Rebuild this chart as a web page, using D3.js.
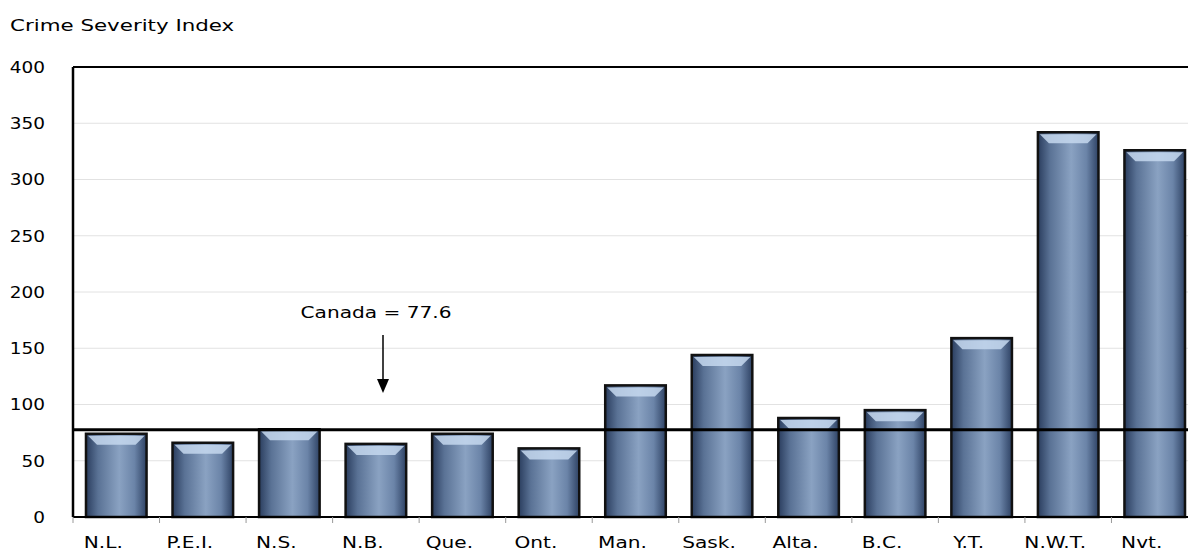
<!DOCTYPE html>
<html><head><meta charset="utf-8">
<script src="https://cdn.jsdelivr.net/npm/d3@7"></script>
<style>body{margin:0;background:#fff}text{font-family:Verdana,"DejaVu Sans",sans-serif}</style>
</head><body><svg id="c" width="1188" height="554"></svg>
<script>
const provinces = ["N.L.","P.E.I.","N.S.","N.B.","Que.","Ont.","Man.","Sask.","Alta.","B.C.","Y.T.","N.W.T.","Nvt."];
const severity = [74,66,78,65,74,61,117,144,88,95,159,342,326];
const yTicks = [0,50,100,150,200,250,300,350,400];
const canadaValue = 77.6;

const svg = d3.select("#c");
const mLeft = 73, mTop = 67, mBottom = 517, mRight = 1198;
const sx = 1.22; // the reference text is stretched sideways
const x = d3.scaleBand().domain(provinces).range([mLeft, mRight]).paddingInner(0.3).paddingOuter(0.15);
const y = d3.scaleLinear().domain([0, 400]).range([mBottom, mTop]);

// place text at (px,py) stretched horizontally
const label = (sel, px, py, anchor, str, s = sx) => sel.append("text")
  .attr("transform", `translate(${px},${py}) scale(${s},1)`)
  .attr("text-anchor", anchor).attr("font-size", 16.5).text(str);

const defs = svg.append("defs");
const g = defs.append("linearGradient").attr("id", "bar").attr("x1", 0).attr("x2", 1);
[[0,"#2a3d5e"],[0.2,"#5a7295"],[0.55,"#8aa2c2"],[0.8,"#6b84a8"],[1,"#2e4264"]]
  .forEach(([o,c]) => g.append("stop").attr("offset", o).attr("stop-color", c));

// gridlines
svg.append("g").selectAll("line").data(yTicks.slice(1, -1)).join("line")
  .attr("x1", mLeft).attr("x2", 1188).attr("y1", d => y(d)).attr("y2", d => y(d))
  .attr("stroke", "#e2e2e2");

svg.append("g").attr("transform", `translate(${mLeft},0)`)
  .call(d3.axisLeft(y).tickValues(yTicks).tickSize(0).tickPadding(0))
  .call(a => a.select(".domain").remove())
  .selectAll("text").attr("x", null).attr("transform", `translate(-28,0) scale(1.12,1)`)
  .attr("text-anchor", "end").attr("font-size", 16.5).attr("fill", "#000").attr("font-family", null);

const bars = svg.append("g").selectAll("g").data(provinces).join("g");
bars.append("rect")
  .attr("x", d => x(d)).attr("width", x.bandwidth())
  .attr("y", (d, i) => y(severity[i])).attr("height", (d, i) => mBottom - y(severity[i]))
  .attr("fill", "url(#bar)").attr("stroke", "#111").attr("stroke-width", 2.5);
bars.append("path")
  .attr("d", (d, i) => { const x0 = x(d) + 2, x1 = x(d) + x.bandwidth() - 2, yt = y(severity[i]) + 2;
    return `M${x0},${yt}L${x1},${yt}L${x1-9},${yt+9}L${x0+9},${yt+9}Z`; })
  .attr("fill", "#c5d8ee").attr("opacity", 0.85);

// axes lines
svg.append("line").attr("x1", mLeft).attr("x2", 1188).attr("y1", mTop).attr("y2", mTop).attr("stroke", "#000").attr("stroke-width", 2);
svg.append("line").attr("x1", mLeft).attr("x2", mLeft).attr("y1", mTop).attr("y2", mBottom).attr("stroke", "#000").attr("stroke-width", 2.5);
svg.append("line").attr("x1", mLeft).attr("x2", 1188).attr("y1", mBottom).attr("y2", mBottom).attr("stroke", "#000").attr("stroke-width", 2);

const xa = d3.scaleLinear().domain([0, provinces.length]).range([mLeft, mRight]);
svg.append("g").selectAll("line").data(d3.range(provinces.length + 1)).join("line")
  .attr("x1", d => xa(d)).attr("x2", d => xa(d)).attr("y1", mBottom).attr("y2", mBottom + 6).attr("stroke", "#999");
const xl = svg.append("g");
provinces.forEach(p => label(xl, x(p) + x.bandwidth() / 2 - 13, 548, "middle", p));

// Canada line
svg.append("line").attr("x1", mLeft).attr("x2", 1188).attr("y1", y(canadaValue)).attr("y2", y(canadaValue))
  .attr("stroke", "#000").attr("stroke-width", 3);
svg.append("line").attr("x1", 383).attr("x2", 383).attr("y1", 335).attr("y2", 382).attr("stroke", "#000").attr("stroke-width", 1.5);
svg.append("path").attr("d", "M377,379L389,379L383,393Z").attr("fill", "#000");
label(svg, 376, 318, "middle", `Canada = ${canadaValue}`);

label(svg, 10, 31, "start", "Crime Severity Index", 1.38).attr("font-size", 15.5);
</script></body></html>
